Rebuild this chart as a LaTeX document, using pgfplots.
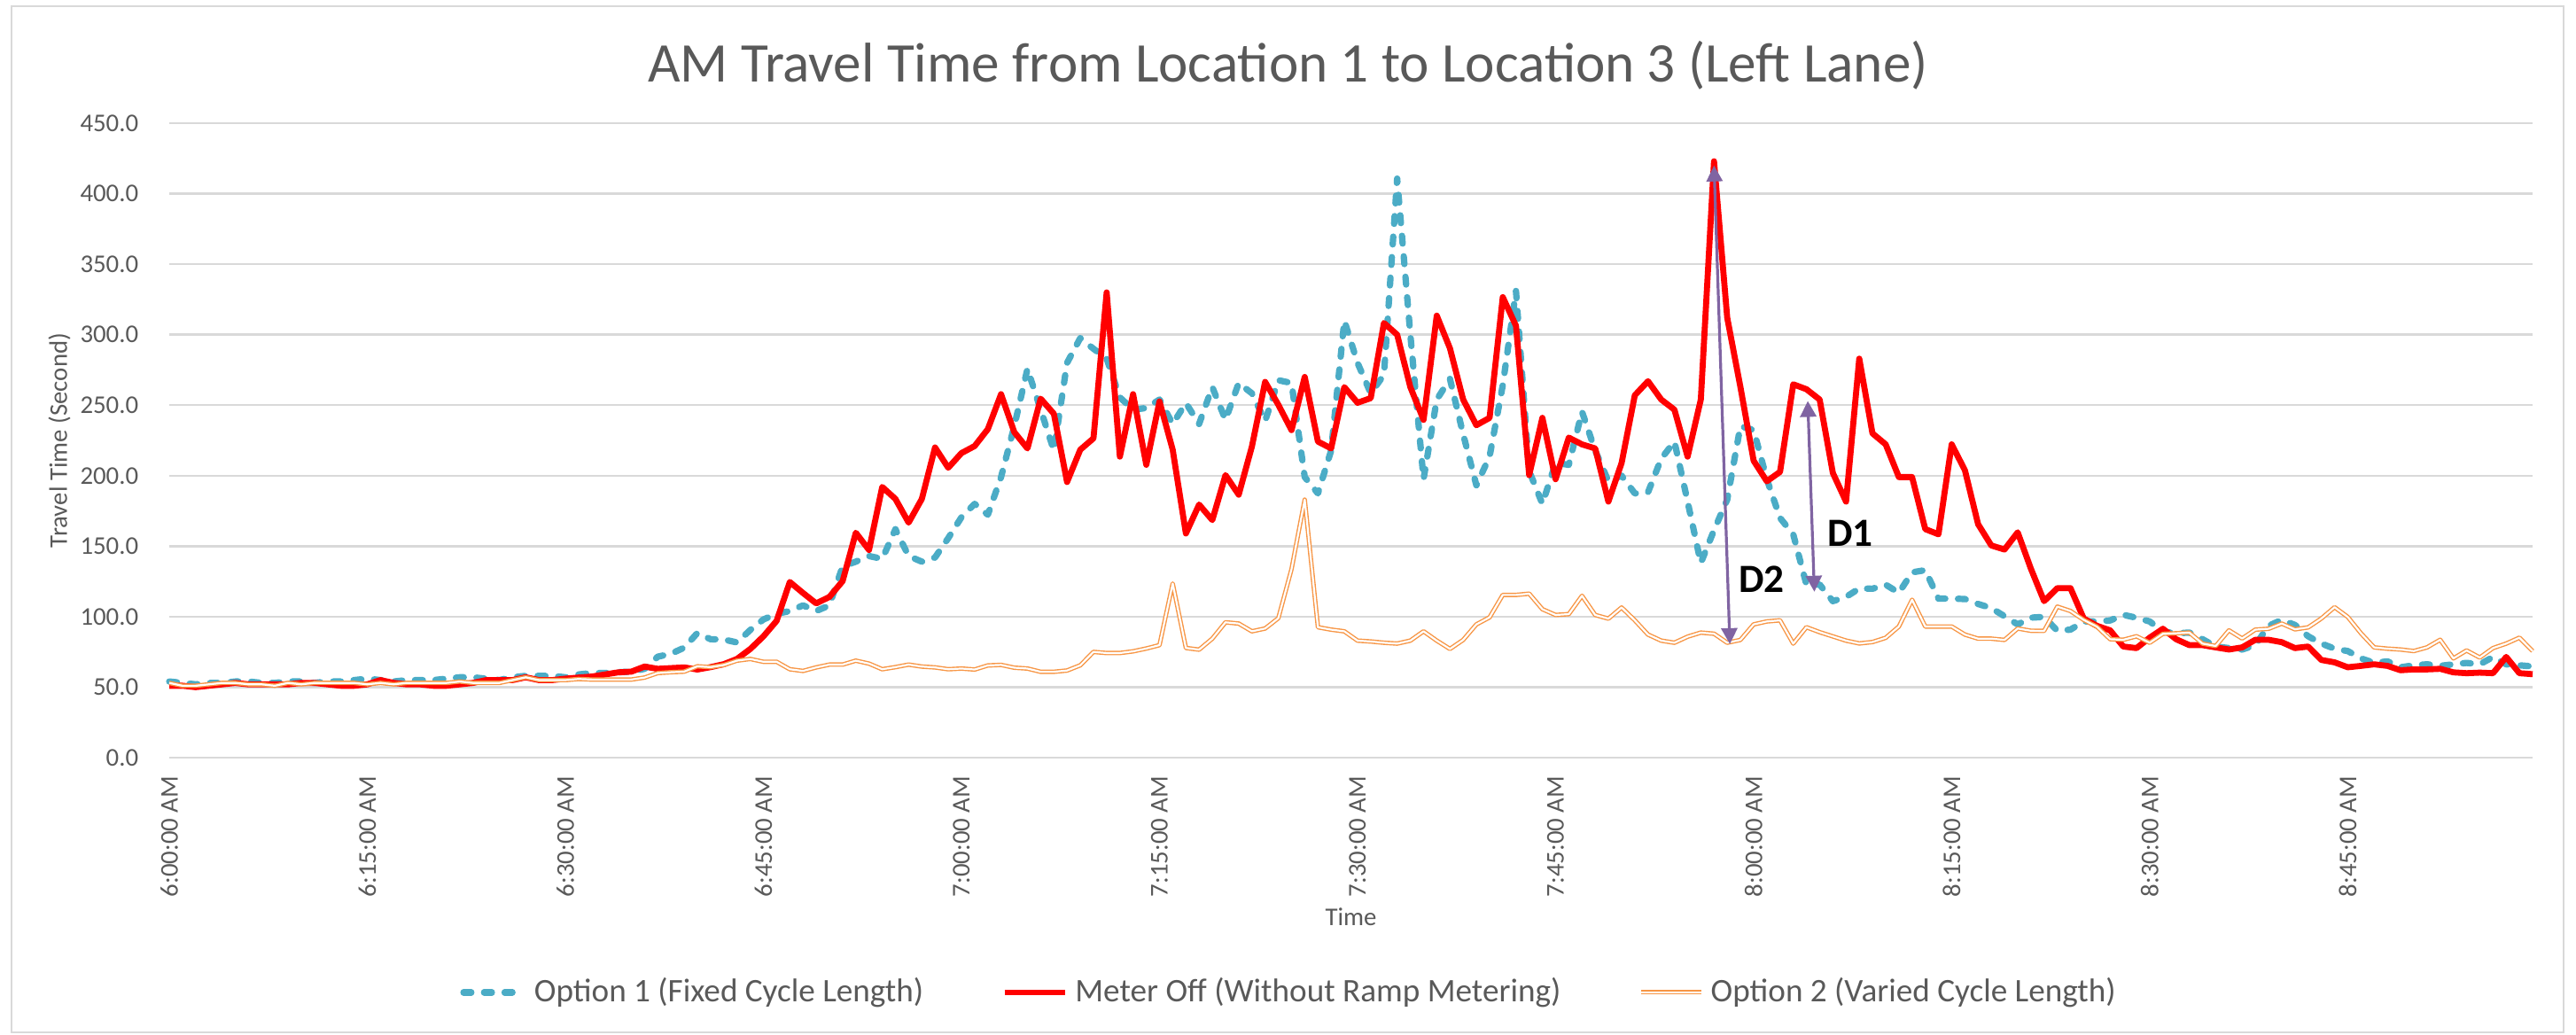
\documentclass[border=0pt]{standalone}
\usepackage{fontspec}
\setmainfont{Carlito}
\usepackage{pgfplots}
\usepackage{pgfplotstable}
\pgfplotsset{compat=1.18}
\usetikzlibrary{arrows.meta}
\definecolor{optone}{RGB}{75,172,198}
\definecolor{meteroff}{RGB}{255,0,0}
\definecolor{opttwo}{RGB}{247,150,70}
\definecolor{gridgray}{RGB}{217,217,217}
\definecolor{txtgray}{RGB}{89,89,89}
\definecolor{arrowpurple}{RGB}{128,100,162}

\pgfplotstableread{
k opt1 off opt2
0 54 51 53
1 53 51 51
2 52 50 51
3 53 51 52
4 53 52 53
5 54 53 53
6 54 52 52
7 53 52 52
8 53 52 51
9 54 52 53
10 54 53 52
11 53 53 53
12 54 52 53
13 54 51 53
14 55 51 53
15 56 52 52
16 55 55 53
17 54 53 52
18 55 52 53
19 55 52 53
20 55 51 53
21 56 51 53
22 57 52 54
23 57 53 53
24 56 55 53
25 55 55 53
26 57 55 55
27 58 57 57
28 58 55 55
29 58 55 55
30 57 56 55
31 59 56.8 55.8
32 60 57.5 55.4
33 60 59 55.4
34 60.6 60.5 55.4
35 61 61 55.4
36 63 64.6 56.8
37 71.6 63 60
38 73.7 63.5 60.6
39 78 64 61
40 88.4 62.5 64.8
41 84 64.2 64.2
42 83.8 66.3 65.7
43 81.7 70 68.8
44 90.5 77 70
45 98 86 68
46 102 97 68
47 104 124.6 62.7
48 108 116.8 61.5
49 104 109.4 64
50 108 114 66
51 135.7 125.2 66
52 139 159.5 68.8
53 143 147.3 66.7
54 141 192 62.7
55 162 183.5 64.2
56 143 166.7 66
57 139 183.5 64.6
58 142 220 64
59 155.7 205.6 62.7
60 170.5 216 63.2
61 180 221 62.5
62 172.3 233 65.4
63 199 257.8 65.8
64 235 230.9 63.8
65 275.8 219.3 63.2
66 246.8 254.6 60.9
67 217.8 243.9 60.9
68 280 195.5 61.8
69 297.6 218.4 65.5
70 290 226.5 75
71 283 330 74.2
72 255.5 213.5 74.2
73 246.8 257.8 75.4
74 248 207.7 77.4
75 254 252.6 79.8
76 236.7 218.4 123.5
77 251.5 159 77.8
78 236.7 179.5 76.6
79 262.8 168.5 84.4
80 239.6 200.4 96
81 265.7 186.5 95.1
82 258.4 220.7 89.6
83 238.7 266.5 91.6
84 267.7 250.3 98.9
85 265.7 232.3 133.7
86 199 270 183
87 187.4 224.2 92.5
88 217.8 219.3 90.8
89 310 262.8 89.6
90 280 251.7 83
91 258.4 255 82.4
92 271.5 308.3 81.5
93 410.7 300 80.9
94 300 262.8 83
95 197.5 239.6 89.6
96 254 313.5 83
97 268.6 290.3 77.1
98 229.4 254 83.5
99 193.2 235.8 94.5
100 213.5 241 99.5
101 264.2 326.6 115.4
102 331 306.3 115.4
103 203.3 200.4 116.3
104 180 241 105.3
105 209 197.5 101.2
106 207.7 227 101.8
107 245.4 222.2 114.8
108 217.8 219.3 101.2
109 196 181.6 98.6
110 200 209 106.5
111 187.4 257 97.4
112 188.2 267 87.3
113 212 254 83
114 224.2 246.8 81.5
115 181.6 213.5 85.8
116 138 254 88.7
117 161.3 423 87.9
118 183 312 81.5
119 235.2 262.8 83.5
120 232.3 210.6 94.5
121 197.5 196 96.6
122 170 202.7 97.4
123 158.4 264.8 80.9
124 122.7 261.3 92.5
125 122.8 254 89
126 111 201.9 86
127 114 181.6 83
128 120 283 81
129 119.8 230 82
130 122.7 222.2 85
131 116.9 199 93
132 131.4 199 112
133 133 162.1 93
134 112.8 158.4 93
135 112.8 222.2 93
136 112.5 203.9 87.3
137 109 165.6 84.4
138 106.1 150.5 84.4
139 100.3 147.6 83.5
140 94.5 159.8 91.6
141 99.3 134 90
142 99.8 111 89.9
143 90 120.2 107.1
144 90.8 120.2 104
145 96.6 98.7 97.7
146 96.6 93.5 92.9
147 97.3 90.3 84
148 101.3 78.8 83.6
149 99.2 77.7 86.1
150 96.6 85.1 81.5
151 89.3 91.4 87.8
152 88.2 84 88.2
153 88.7 79.8 88.7
154 84 79.8 80.9
155 78.8 78.2 79.2
156 77.7 76.7 90.3
157 76.7 78.2 84.5
158 79.8 83.6 90.8
159 93.5 83.6 91.4
160 97.7 81.9 95.1
161 94.1 77.7 91
162 86.1 78.8 92.4
163 80.9 69.3 98.7
164 77.3 67.6 106.7
165 75.6 64.1 99.8
166 70.4 65.1 88.2
167 67.2 66.2 78.2
168 68.3 65.1 77.3
169 64.1 62 76.7
170 65.5 62.6 75.6
171 66.2 62.6 78.2
172 65.1 63 83.6
173 66.2 60.5 70.4
174 67.2 59.9 76
175 66.2 60.3 71
176 71.4 59.9 77.7
177 66.2 71.4 80.9
178 65.5 59.9 85.1
179 64.7 59.2 75.6
}\datatable

\begin{document}
\begin{tikzpicture}
\path[use as bounding box] (0,0) rectangle (726.75pt,291.75pt);
\draw[gridgray, line width=0.6pt] (3.25pt,0.5pt) rectangle (723.25pt,290pt);
\begin{axis}[
  at={(47.75pt,78pt)}, anchor=south west,
  scale only axis, width=666.75pt, height=179pt,
  xmin=0, xmax=179, ymin=0, ymax=450,
  axis line style={draw=none},
  ymajorgrids, grid style={gridgray, line width=0.6pt},
  major tick length=0pt,
  ytick={0,50,...,450},
  yticklabels={0.0,50.0,100.0,150.0,200.0,250.0,300.0,350.0,400.0,450.0},
  xtick={0,15,...,165},
  xticklabels={6:00:00 AM,6:15:00 AM,6:30:00 AM,6:45:00 AM,7:00:00 AM,7:15:00 AM,7:30:00 AM,7:45:00 AM,8:00:00 AM,8:15:00 AM,8:30:00 AM,8:45:00 AM},
  ticklabel style={font=\fontsize{7.2}{8.6}\selectfont, text=txtgray},
  xticklabel style={rotate=90, anchor=east, inner sep=0pt},
  yticklabel style={anchor=east, inner sep=0pt},
  xticklabel shift=5pt,
  yticklabel shift=8.5pt,
  xlabel={Time}, ylabel={Travel Time (Second)},
  label style={font=\fontsize{7.2}{8.6}\selectfont, text=txtgray},
  xlabel style={at={(axis description cs:0.5,-0.2514)}, anchor=center},
  ylabel style={at={(axis description cs:-0.0465,0.5)}, anchor=center},
  title={AM Travel Time from Location 1 to Location 3 (Left Lane)},
  title style={at={(axis description cs:0.4734,1.0908)}, anchor=center, yshift=-6pt, font=\fontsize{15.8}{19}\selectfont, text=txtgray},
  legend style={at={(axis description cs:0.4749,-0.370)}, anchor=center, draw=none, fill=none, legend columns=3, font=\fontsize{9.3}{11}\selectfont, text=txtgray, /tikz/every even column/.append style={column sep=20pt}},
  clip=false,
]
\addplot[optone, line width=1.8pt, dash pattern=on 2.2pt off 3.6pt, line cap=round, line join=round] table[x=k,y=opt1]{\datatable};
\addlegendentry{Option 1 (Fixed Cycle Length)}
\addplot[meteroff, line width=1.7pt, line join=round] table[x=k,y=off]{\datatable};
\addlegendentry{Meter Off (Without Ramp Metering)}
\addplot[opttwo, line width=0.35pt, double=white, double distance=0.55pt, line join=round] table[x=k,y=opt2]{\datatable};
\addlegendentry{Option 2 (Varied Cycle Length)}
\draw[arrowpurple, line width=0.8pt, {Triangle[width=4.5pt,length=4.5pt]}-{Triangle[width=4.5pt,length=4.5pt]}] (axis cs:117,420) -- (axis cs:118.2,80.5);
\draw[arrowpurple, line width=0.8pt, {Triangle[width=4.5pt,length=4.5pt]}-{Triangle[width=4.5pt,length=4.5pt]}] (axis cs:124.1,253) -- (axis cs:124.6,117.7);
\node[font=\bfseries\fontsize{11.3}{13}\selectfont, text=black] at (axis cs:120.6,126.3) {D2};
\node[font=\bfseries\fontsize{11.3}{13}\selectfont, text=black] at (axis cs:127.3,159) {D1};
\end{axis}
\end{tikzpicture}
\end{document}
